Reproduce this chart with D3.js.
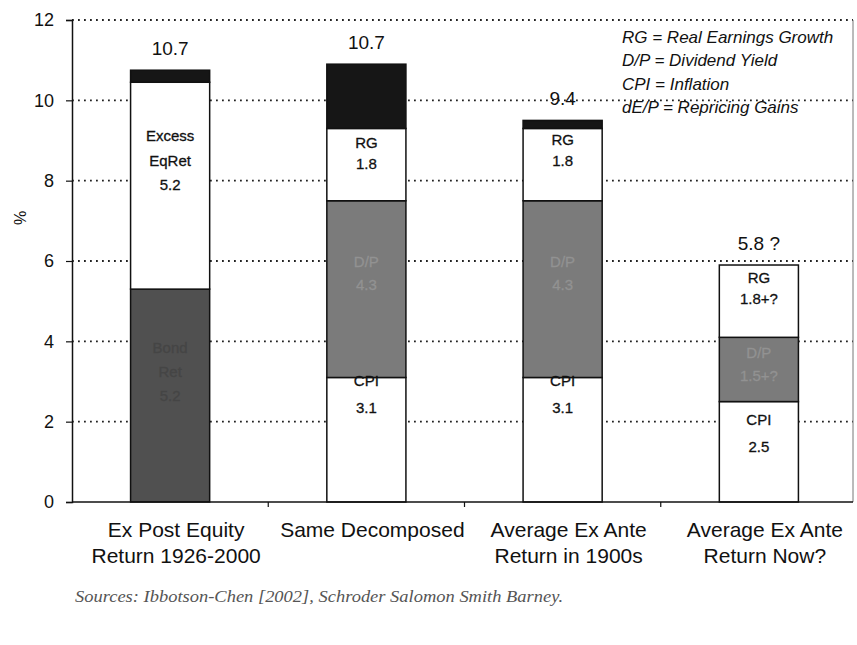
<!DOCTYPE html>
<html>
<head>
<meta charset="utf-8">
<script src="https://cdn.jsdelivr.net/npm/d3@7"></script>
<style>
  body { margin: 0; background: #fff; }
  svg { display: block; font-family: "Liberation Sans", Arial, sans-serif; }
</style>
</head>
<body>
<div class="chart"></div>
<script>
// categories (two lines each)
var categories = ["Ex Post Equity|Return 1926-2000", "Same Decomposed", "Average Ex Ante|Return in 1900s", "Average Ex Ante|Return Now?"];

// stacked components, bottom to top
var bondRet    = [5.3, 0, 0, 0];
var cpi        = [0, 3.1, 3.1, 2.5];
var divYield   = [0, 4.4, 4.4, 1.6];
var excessRet  = [5.15, 0, 0, 0];
var realGrowth = [0, 1.8, 1.8, 1.8];
var repricing  = [0.3, 1.6, 0.2, 0];

var totalLabels = ["10.7", "10.7", "9.4", "5.8 ?"];

// text written inside the segments
var bondText   = [["Bond", "Ret", "5.2"], null, null, null];
var cpiText    = [null, ["CPI", "3.1"], ["CPI", "3.1"], ["CPI", "2.5"]];
var dpText     = [null, ["D/P", "4.3"], ["D/P", "4.3"], ["D/P", "1.5+?"]];
var excessText = [["Excess", "EqRet", "5.2"], null, null, null];
var rgText     = [null, ["RG", "1.8"], ["RG", "1.8"], ["RG", "1.8+?"]];

var legendLines = ["RG = Real Earnings Growth", "D/P = Dividend Yield", "CPI = Inflation", "dE/P = Repricing Gains"];
var yTicks = [0, 2, 4, 6, 8, 10, 12];

var width = 857, height = 645;
var mLeft = 72, mRight = 853, mTop = 20, mBottom = 502;

var svg = d3.select("div.chart").append("svg")
    .attr("width", width)
    .attr("height", height);

var x = d3.scaleBand()
    .domain(categories)
    .range([mLeft, 857])
    .paddingInner(0.597)
    .paddingOuter(0.2985);

var y = d3.scaleLinear().domain([0, 12]).range([mBottom, mTop]);

// series styling; dy = px from segment top to first text baseline, gap = line spacing
var series = [
    { key: "bond",   values: bondRet,    text: bondText,   fill: "#505050", ink: "#454545", dy: [64, 0, 0, 0],   gap: 24 },
    { key: "cpi",    values: cpi,        text: cpiText,    fill: "#fff",    ink: "#111",    dy: [0, 9, 9, 23],   gap: 27 },
    { key: "dp",     values: divYield,   text: dpText,     fill: "#7b7b7b", ink: "#929292", dy: [0, 66, 66, 21], gap: 23 },
    { key: "excess", values: excessRet,  text: excessText, fill: "#fff",    ink: "#111",    dy: [59, 0, 0, 0],   gap: 24.5 },
    { key: "rg",     values: realGrowth, text: rgText,     fill: "#fff",    ink: "#111",    dy: [0, 20, 17, 18], gap: 21 },
    { key: "dep",    values: repricing,  text: null,       fill: "#161616", ink: "#fff",    dy: [0, 0, 0, 0],    gap: 0 }
];

var table = categories.map(function(c, i) {
    var row = { cat: c };
    series.forEach(function(s) { row[s.key] = s.values[i]; });
    return row;
});

var stacked = d3.stack().keys(series.map(function(s) { return s.key; }))(table);

// gridlines
svg.append("g").selectAll("line")
    .data(yTicks.filter(function(d) { return d > 0; }))
    .enter().append("line")
    .attr("x1", mLeft).attr("x2", mRight)
    .attr("y1", function(d) { return y(d); })
    .attr("y2", function(d) { return y(d); })
    .attr("stroke", "#222")
    .attr("stroke-width", 1.8)
    .attr("stroke-dasharray", "1.8,4.2");

// right border
svg.append("line")
    .attr("x1", mRight).attr("x2", mRight)
    .attr("y1", mTop).attr("y2", mBottom)
    .attr("stroke", "#777").attr("stroke-width", 1);

// bars
stacked.forEach(function(layer, li) {
    var s = series[li];
    svg.append("g").attr("class", "layer-" + s.key)
        .selectAll("rect")
        .data(layer.filter(function(d) { return d[1] - d[0] > 0; }))
        .enter().append("rect")
        .attr("x", function(d) { return x(d.data.cat); })
        .attr("width", x.bandwidth())
        .attr("y", function(d) { return y(d[1]); })
        .attr("height", function(d) { return y(d[0]) - y(d[1]); })
        .attr("fill", s.fill)
        .attr("stroke", "#111")
        .attr("stroke-width", 1.5);
});

// segment labels
stacked.forEach(function(layer, li) {
    var s = series[li];
    if (!s.text) return;
    layer.forEach(function(d, i) {
        var lines = s.text[i];
        if (!lines) return;
        var cx = x(d.data.cat) + x.bandwidth() / 2;
        var y0 = y(d[1]) + s.dy[i];
        svg.append("g").selectAll("text")
            .data(lines)
            .enter().append("text")
            .attr("x", cx)
            .attr("y", function(t, k) { return y0 + k * s.gap; })
            .attr("text-anchor", "middle")
            .attr("font-size", 15)
            .attr("fill", s.ink)
            .attr("stroke", s.ink)
            .attr("stroke-width", 0.3)
            .text(function(t) { return t; });
    });
});

// totals above bars
var topLayer = stacked[stacked.length - 1];
svg.append("g").selectAll("text")
    .data(topLayer)
    .enter().append("text")
    .attr("x", function(d) { return x(d.data.cat) + x.bandwidth() / 2; })
    .attr("y", function(d) { return y(d[1]) - 15; })
    .attr("text-anchor", "middle")
    .attr("font-size", 19)
    .attr("fill", "#111")
    .text(function(d, i) { return totalLabels[i]; });

// y axis
var yAxis = d3.axisLeft(y).tickValues(yTicks).tickSize(6).tickPadding(12);
var ga = svg.append("g").attr("transform", "translate(" + mLeft + ",0)").call(yAxis);
ga.select(".domain").attr("stroke", "#111").attr("stroke-width", 1.5);
ga.selectAll(".tick line").attr("stroke", "#111").attr("stroke-width", 1.2);
ga.selectAll(".tick text").attr("font-size", 18).attr("fill", "#111")
    .attr("font-family", "'Liberation Sans', Arial, sans-serif");

// x axis line + ticks at band boundaries
svg.append("line")
    .attr("x1", mLeft).attr("x2", mRight)
    .attr("y1", mBottom).attr("y2", mBottom)
    .attr("stroke", "#111").attr("stroke-width", 1.5);
svg.append("g").selectAll("line")
    .data(categories.slice(1))
    .enter().append("line")
    .attr("x1", function(d) { return x(d) - x.step() * x.paddingInner() / 2; })
    .attr("x2", function(d) { return x(d) - x.step() * x.paddingInner() / 2; })
    .attr("y1", mBottom).attr("y2", mBottom + 5)
    .attr("stroke", "#111").attr("stroke-width", 1.2);

// category labels
categories.forEach(function(c) {
    var cx = x(c) + x.bandwidth() / 2 + 6;
    svg.append("g").selectAll("text")
        .data(c.split("|"))
        .enter().append("text")
        .attr("x", cx)
        .attr("y", function(t, k) { return 537 + k * 26; })
        .attr("text-anchor", "middle")
        .attr("font-size", 21)
        .attr("fill", "#111")
        .text(function(t) { return t; });
});

// y label
svg.append("text")
    .attr("transform", "translate(26,218) rotate(-90)")
    .attr("text-anchor", "middle")
    .attr("font-size", 16)
    .attr("fill", "#111")
    .text("%");

// legend (italic key)
svg.append("g").selectAll("text")
    .data(legendLines)
    .enter().append("text")
    .attr("x", 622)
    .attr("y", function(d, i) { return 42.5 + i * 23.5; })
    .attr("font-size", 17)
    .attr("font-style", "italic")
    .attr("fill", "#111")
    .text(function(d) { return d; });

// source note
svg.append("text")
    .attr("x", 75)
    .attr("y", 602)
    .attr("font-family", "'Liberation Serif', 'DejaVu Serif', serif")
    .attr("font-style", "italic")
    .attr("font-size", 17)
    .attr("textLength", 488)
    .attr("lengthAdjust", "spacingAndGlyphs")
    .attr("fill", "#555")
    .text("Sources: Ibbotson-Chen [2002], Schroder Salomon Smith Barney.");
</script>
</body>
</html>
